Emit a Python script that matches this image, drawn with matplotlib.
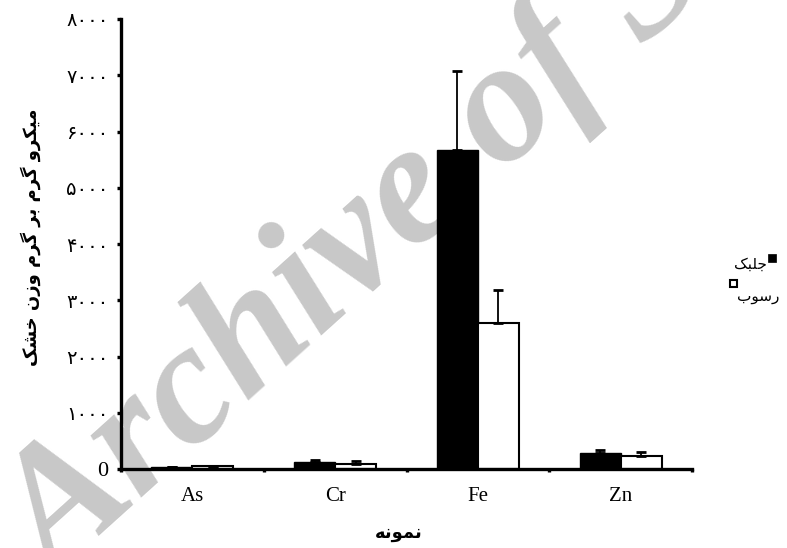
import matplotlib
matplotlib.use('Agg')
import matplotlib.pyplot as plt
from matplotlib.patches import Rectangle

categories = ['As', 'Cr', 'Fe', 'Zn']
algae = [30, 120, 5670, 280]
algae_err = [10, 40, 1410, 60]
sediment = [50, 90, 2600, 230]
sediment_err = [10, 45, 580, 70]

y_ticks = [0, 1000, 2000, 3000, 4000, 5000, 6000, 7000, 8000]
y_labels = ['0', '۱۰۰۰', '۲۰۰۰', '۳۰۰۰', '۴۰۰۰', '۵۰۰۰', '۶۰۰۰', '۷۰۰۰', '۸۰۰۰']

ylabel_txt = 'میکرو گرم بر گرم وزن خشک'
xlabel_txt = 'نمونه'
legend_txt = ['جلبک', 'رسوب']

# matplotlib 3.10 does no arabic shaping, so pick the presentation forms by hand
# (isolated, final, initial, medial)
forms = {
    'م': ('\uFEE1', '\uFEE2', '\uFEE3', '\uFEE4'),
    'ی': ('\uFBFC', '\uFBFD', '\uFBFE', '\uFBFF'),
    'ک': ('\uFB8E', '\uFB8F', '\uFB90', '\uFB91'),
    'گ': ('\uFB92', '\uFB93', '\uFB94', '\uFB95'),
    'ب': ('\uFE8F', '\uFE90', '\uFE91', '\uFE92'),
    'ن': ('\uFEE5', '\uFEE6', '\uFEE7', '\uFEE8'),
    'خ': ('\uFEA5', '\uFEA6', '\uFEA7', '\uFEA8'),
    'ش': ('\uFEB5', '\uFEB6', '\uFEB7', '\uFEB8'),
    'ه': ('\uFEE9', '\uFEEA', '\uFEEB', '\uFEEC'),
    'ج': ('\uFE9D', '\uFE9E', '\uFE9F', '\uFEA0'),
    'ل': ('\uFEDD', '\uFEDE', '\uFEDF', '\uFEE0'),
    'س': ('\uFEB1', '\uFEB2', '\uFEB3', '\uFEB4'),
    'ر': ('\uFEAD', '\uFEAE', None, None),
    'ز': ('\uFEAF', '\uFEB0', None, None),
    'و': ('\uFEED', '\uFEEE', None, None),
}


def shape(s):
    out = []
    for i, ch in enumerate(s):
        if ch not in forms:
            out.append(ch)
            continue
        prev = s[i - 1] if i > 0 else None
        nxt = s[i + 1] if i + 1 < len(s) else None
        jp = prev in forms and forms[prev][2] is not None
        jn = nxt in forms and forms[ch][2] is not None
        if jp and jn:
            out.append(forms[ch][3])
        elif jp:
            out.append(forms[ch][1])
        elif jn:
            out.append(forms[ch][2])
        else:
            out.append(forms[ch][0])
    return ''.join(out[::-1])


fig = plt.figure(figsize=(7.87, 5.48), dpi=100)
ax = fig.add_axes([121 / 787, 79 / 548, 571 / 787, 450 / 548])
ax.set_facecolor('none')

# watermark behind everything
fig.text(0.071, -0.063, 'Archive of SID', rotation=42, rotation_mode='anchor',
         ha='left', va='baseline', fontsize=125, family='Liberation Serif',
         fontweight='bold', style='italic', color='#c8c8c8', zorder=-5)

x = list(range(len(categories)))
w = 0.287
xa = [i - w / 2 for i in x]
xs = [i + w / 2 for i in x]
ax.bar(xa, algae, w, color='black', edgecolor='black', linewidth=1, zorder=2)
ax.bar(xs, sediment, w, color='white', edgecolor='black', linewidth=1.5, zorder=2)
ax.errorbar(xa, algae, yerr=[[0] * 4, algae_err], fmt='none', ecolor='black',
            elinewidth=1.3, capsize=3.6, capthick=2, zorder=3)
ax.errorbar(xs, sediment, yerr=[[0] * 4, sediment_err], fmt='none', ecolor='black',
            elinewidth=1.3, capsize=3.6, capthick=2, zorder=3)

ax.set_xlim(-0.5, 3.5)
ax.set_ylim(0, 8000)
for side in ['top', 'right']:
    ax.spines[side].set_visible(False)
for side in ['left', 'bottom']:
    ax.spines[side].set_linewidth(2.4)

ax.set_xticks(x)
ax.set_xticklabels(categories, family='Liberation Serif', fontsize=15)
ax.set_xticks([-0.5, 0.5, 1.5, 2.5, 3.5], minor=True)
ax.tick_params(axis='x', which='major', length=0, pad=13)
ax.tick_params(axis='x', which='minor', length=2.5, width=2.4, direction='out')

ax.set_yticks(y_ticks)
ax.set_yticklabels(y_labels, fontsize=14, family='DejaVu Sans')
ax.tick_params(axis='y', length=3, width=2.4, direction='out', pad=6)
zero = ax.get_yticklabels()[0]
zero.set_family('Liberation Serif')
zero.set_fontsize(16)

fig.text(31 / 787, 1 - 237 / 548, shape(ylabel_txt), rotation=90, ha='center',
         va='center', fontsize=13, fontweight='bold', family='DejaVu Sans')
fig.text(399 / 787, 1 - 533 / 548, shape(xlabel_txt), ha='center', va='center',
         fontsize=13, fontweight='bold', family='DejaVu Sans')

# legend, laid out as in the source
fig.patches.append(Rectangle((768 / 787, 1 - 262 / 548), 8 / 787, 8 / 548,
                             transform=fig.transFigure, facecolor='black',
                             edgecolor='black', linewidth=0.5))
fig.text(767 / 787, 1 - 264 / 548, shape(legend_txt[0]), ha='right', va='center',
         fontsize=11, family='DejaVu Sans')
fig.patches.append(Rectangle((729.5 / 787, 1 - 287 / 548), 7 / 787, 7 / 548,
                             transform=fig.transFigure, facecolor='white',
                             edgecolor='black', linewidth=1.5))
fig.text(737 / 787, 1 - 296 / 548, shape(legend_txt[1]), ha='left', va='center',
         fontsize=11, family='DejaVu Sans')

fig.savefig('out.png', dpi=100)
